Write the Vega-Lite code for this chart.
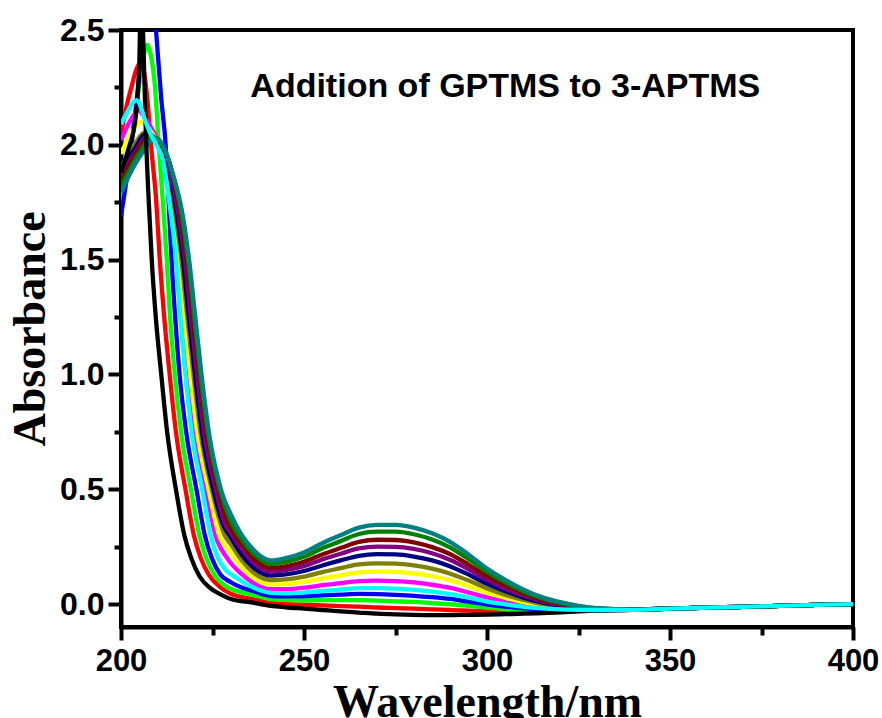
{
  "$schema": "https://vega.github.io/schema/vega-lite/v6.json",
  "width": 732,
  "height": 597,
  "autosize": {"type": "none"},
  "padding": {"left": 121, "top": 30, "right": 29, "bottom": 91},
  "background": "white",
  "config": {
    "view": {"stroke": "black", "strokeWidth": 4},
    "axis": {"grid": false}
  },
  "datasets": {
    "spectra": [
{"s":"red","w":200,"a":2.05},{"s":"red","w":202,"a":2.2},{"s":"red","w":203,"a":2.26},{"s":"red","w":204,"a":2.32},{"s":"red","w":205.2,"a":2.355},{"s":"red","w":206.1,"a":2.33},{"s":"red","w":207.2,"a":2.2},{"s":"red","w":208.3,"a":1.98},{"s":"red","w":209.6,"a":1.76},{"s":"red","w":210.6,"a":1.5},{"s":"red","w":211.8,"a":1.25},{"s":"red","w":213.3,"a":1.0},{"s":"red","w":215,"a":0.75},{"s":"red","w":217.6,"a":0.5},{"s":"red","w":219.9,"a":0.3},{"s":"red","w":221.8,"a":0.2},{"s":"red","w":224.1,"a":0.125},{"s":"red","w":227,"a":0.075},{"s":"red","w":230,"a":0.045},{"s":"red","w":236,"a":0.022},
{"s":"red","w":241,"a":0.006},{"s":"red","w":245,"a":0.001},{"s":"red","w":250,"a":-0.003},{"s":"red","w":255,"a":-0.006},{"s":"red","w":260,"a":-0.009},{"s":"red","w":265,"a":-0.011},{"s":"red","w":270,"a":-0.015},{"s":"red","w":275,"a":-0.018},{"s":"red","w":280,"a":-0.02},{"s":"red","w":285,"a":-0.023},{"s":"red","w":290,"a":-0.026},{"s":"red","w":295,"a":-0.029},{"s":"red","w":300,"a":-0.032},{"s":"red","w":305,"a":-0.034},{"s":"red","w":310,"a":-0.035},{"s":"red","w":315,"a":-0.034},{"s":"red","w":320,"a":-0.033},{"s":"red","w":325,"a":-0.03},{"s":"red","w":330,"a":-0.028},{"s":"red","w":340,"a":-0.025},{"s":"red","w":350,"a":-0.02},{"s":"red","w":360,"a":-0.016},{"s":"red","w":370,"a":-0.012},{"s":"red","w":380,"a":-0.008},{"s":"red","w":390,"a":-0.004},{"s":"red","w":400,"a":0},

{"s":"green","w":200,"a":1.75},{"s":"green","w":202,"a":1.95},{"s":"green","w":204,"a":2.15},{"s":"green","w":205.5,"a":2.32},{"s":"green","w":206.5,"a":2.41},{"s":"green","w":207.2,"a":2.435},{"s":"green","w":208,"a":2.4},{"s":"green","w":209.3,"a":2.25},{"s":"green","w":210.3,"a":2.0},{"s":"green","w":211.4,"a":1.76},{"s":"green","w":212.5,"a":1.5},{"s":"green","w":213.4,"a":1.25},{"s":"green","w":214.7,"a":1.0},{"s":"green","w":216.4,"a":0.75},{"s":"green","w":219.1,"a":0.5},{"s":"green","w":221.4,"a":0.3},{"s":"green","w":223.3,"a":0.2},{"s":"green","w":225.6,"a":0.125},{"s":"green","w":228.4,"a":0.08},{"s":"green","w":232,"a":0.055},{"s":"green","w":236,"a":0.04},
{"s":"green","w":241,"a":0.021},{"s":"green","w":245,"a":0.017},{"s":"green","w":250,"a":0.016},{"s":"green","w":255,"a":0.017},{"s":"green","w":260,"a":0.017},{"s":"green","w":265,"a":0.017},{"s":"green","w":270,"a":0.015},{"s":"green","w":275,"a":0.012},{"s":"green","w":280,"a":0.009},{"s":"green","w":285,"a":0.004},{"s":"green","w":290,"a":-0.001},{"s":"green","w":295,"a":-0.008},{"s":"green","w":300,"a":-0.016},{"s":"green","w":305,"a":-0.022},{"s":"green","w":310,"a":-0.027},{"s":"green","w":315,"a":-0.029},{"s":"green","w":320,"a":-0.03},{"s":"green","w":325,"a":-0.028},{"s":"green","w":330,"a":-0.027},{"s":"green","w":340,"a":-0.025},{"s":"green","w":350,"a":-0.02},{"s":"green","w":360,"a":-0.016},{"s":"green","w":370,"a":-0.012},{"s":"green","w":380,"a":-0.008},{"s":"green","w":390,"a":-0.004},{"s":"green","w":400,"a":0},

{"s":"blue","w":200,"a":1.69},{"s":"blue","w":202,"a":1.9},{"s":"blue","w":204,"a":2.15},{"s":"blue","w":205.5,"a":2.4},{"s":"blue","w":206.5,"a":2.6},{"s":"blue","w":207.8,"a":2.72},{"s":"blue","w":209,"a":2.62},{"s":"blue","w":209.8,"a":2.45},{"s":"blue","w":211,"a":2.2},{"s":"blue","w":212.2,"a":2.0},{"s":"blue","w":213,"a":1.76},{"s":"blue","w":213.8,"a":1.5},{"s":"blue","w":214.8,"a":1.25},{"s":"blue","w":216,"a":1.0},{"s":"blue","w":217.8,"a":0.75},{"s":"blue","w":220.6,"a":0.5},{"s":"blue","w":222.9,"a":0.3},{"s":"blue","w":224.8,"a":0.2},{"s":"blue","w":227.1,"a":0.13},{"s":"blue","w":230,"a":0.095},{"s":"blue","w":233,"a":0.072},{"s":"blue","w":236,"a":0.057},
{"s":"blue","w":241,"a":0.035},{"s":"blue","w":245,"a":0.033},{"s":"blue","w":250,"a":0.034},{"s":"blue","w":255,"a":0.038},{"s":"blue","w":260,"a":0.041},{"s":"blue","w":265,"a":0.044},{"s":"blue","w":270,"a":0.043},{"s":"blue","w":275,"a":0.04},{"s":"blue","w":280,"a":0.036},{"s":"blue","w":285,"a":0.03},{"s":"blue","w":290,"a":0.022},{"s":"blue","w":295,"a":0.01},{"s":"blue","w":300,"a":-0.002},{"s":"blue","w":305,"a":-0.011},{"s":"blue","w":310,"a":-0.019},{"s":"blue","w":315,"a":-0.024},{"s":"blue","w":320,"a":-0.026},{"s":"blue","w":325,"a":-0.027},{"s":"blue","w":330,"a":-0.027},{"s":"blue","w":340,"a":-0.025},{"s":"blue","w":350,"a":-0.02},{"s":"blue","w":360,"a":-0.016},{"s":"blue","w":370,"a":-0.012},{"s":"blue","w":380,"a":-0.008},{"s":"blue","w":390,"a":-0.004},{"s":"blue","w":400,"a":0},

{"s":"magenta","w":200,"a":2.02},{"s":"magenta","w":202,"a":2.09},{"s":"magenta","w":203.5,"a":2.13},{"s":"magenta","w":204.7,"a":2.15},{"s":"magenta","w":206,"a":2.13},{"s":"magenta","w":208,"a":2.08},{"s":"magenta","w":210,"a":2.02},{"s":"magenta","w":212,"a":1.9},{"s":"magenta","w":213.8,"a":1.7},{"s":"magenta","w":215.4,"a":1.5},{"s":"magenta","w":216.8,"a":1.25},{"s":"magenta","w":218.3,"a":1.0},{"s":"magenta","w":220.2,"a":0.75},{"s":"magenta","w":223.2,"a":0.5},{"s":"magenta","w":225.8,"a":0.3},{"s":"magenta","w":229,"a":0.2},{"s":"magenta","w":233,"a":0.13},{"s":"magenta","w":236,"a":0.093},
{"s":"magenta","w":241,"a":0.065},{"s":"magenta","w":245,"a":0.065},{"s":"magenta","w":250,"a":0.071},{"s":"magenta","w":255,"a":0.082},{"s":"magenta","w":260,"a":0.091},{"s":"magenta","w":265,"a":0.1},{"s":"magenta","w":270,"a":0.102},{"s":"magenta","w":275,"a":0.1},{"s":"magenta","w":280,"a":0.094},{"s":"magenta","w":285,"a":0.084},{"s":"magenta","w":290,"a":0.07},{"s":"magenta","w":295,"a":0.05},{"s":"magenta","w":300,"a":0.029},{"s":"magenta","w":305,"a":0.011},{"s":"magenta","w":310,"a":-0.003},{"s":"magenta","w":315,"a":-0.013},{"s":"magenta","w":320,"a":-0.02},{"s":"magenta","w":325,"a":-0.023},{"s":"magenta","w":330,"a":-0.025},{"s":"magenta","w":340,"a":-0.025},{"s":"magenta","w":350,"a":-0.02},{"s":"magenta","w":360,"a":-0.016},{"s":"magenta","w":370,"a":-0.012},{"s":"magenta","w":380,"a":-0.008},{"s":"magenta","w":390,"a":-0.004},{"s":"magenta","w":400,"a":0},

{"s":"yellow","w":200,"a":1.96},{"s":"yellow","w":202,"a":2.03},{"s":"yellow","w":204,"a":2.08},{"s":"yellow","w":205.2,"a":2.1},{"s":"yellow","w":206.5,"a":2.09},{"s":"yellow","w":208.5,"a":2.05},{"s":"yellow","w":210.5,"a":1.99},{"s":"yellow","w":212.5,"a":1.87},{"s":"yellow","w":214.2,"a":1.7},{"s":"yellow","w":215.8,"a":1.5},{"s":"yellow","w":217.3,"a":1.25},{"s":"yellow","w":218.9,"a":1.0},{"s":"yellow","w":220.8,"a":0.75},{"s":"yellow","w":223.9,"a":0.5},{"s":"yellow","w":226.8,"a":0.3},{"s":"yellow","w":230,"a":0.225},{"s":"yellow","w":233,"a":0.16},{"s":"yellow","w":236,"a":0.117},
{"s":"yellow","w":241,"a":0.086},{"s":"yellow","w":245,"a":0.087},{"s":"yellow","w":250,"a":0.096},{"s":"yellow","w":255,"a":0.112},{"s":"yellow","w":260,"a":0.125},{"s":"yellow","w":265,"a":0.138},{"s":"yellow","w":270,"a":0.141},{"s":"yellow","w":275,"a":0.14},{"s":"yellow","w":280,"a":0.133},{"s":"yellow","w":285,"a":0.121},{"s":"yellow","w":290,"a":0.103},{"s":"yellow","w":295,"a":0.077},{"s":"yellow","w":300,"a":0.049},{"s":"yellow","w":305,"a":0.027},{"s":"yellow","w":310,"a":0.008},{"s":"yellow","w":315,"a":-0.006},{"s":"yellow","w":320,"a":-0.015},{"s":"yellow","w":325,"a":-0.021},{"s":"yellow","w":330,"a":-0.024},{"s":"yellow","w":340,"a":-0.025},{"s":"yellow","w":350,"a":-0.02},{"s":"yellow","w":360,"a":-0.016},{"s":"yellow","w":370,"a":-0.012},{"s":"yellow","w":380,"a":-0.008},{"s":"yellow","w":390,"a":-0.004},{"s":"yellow","w":400,"a":0},

{"s":"olive","w":200,"a":1.9},{"s":"olive","w":202,"a":1.96},{"s":"olive","w":204,"a":2.01},{"s":"olive","w":206,"a":2.05},{"s":"olive","w":207,"a":2.055},{"s":"olive","w":208.5,"a":2.04},{"s":"olive","w":210.5,"a":2.0},{"s":"olive","w":212.5,"a":1.91},{"s":"olive","w":214.8,"a":1.7},{"s":"olive","w":216.5,"a":1.5},{"s":"olive","w":218.1,"a":1.25},{"s":"olive","w":219.8,"a":1.0},{"s":"olive","w":221.7,"a":0.75},{"s":"olive","w":224.8,"a":0.5},{"s":"olive","w":228.3,"a":0.3},{"s":"olive","w":230,"a":0.26},{"s":"olive","w":233,"a":0.19},{"s":"olive","w":236,"a":0.139},
{"s":"olive","w":241,"a":0.104},{"s":"olive","w":245,"a":0.107},{"s":"olive","w":250,"a":0.119},{"s":"olive","w":255,"a":0.139},{"s":"olive","w":260,"a":0.156},{"s":"olive","w":265,"a":0.173},{"s":"olive","w":270,"a":0.177},{"s":"olive","w":275,"a":0.176},{"s":"olive","w":280,"a":0.168},{"s":"olive","w":285,"a":0.154},{"s":"olive","w":290,"a":0.132},{"s":"olive","w":295,"a":0.102},{"s":"olive","w":300,"a":0.068},{"s":"olive","w":305,"a":0.04},{"s":"olive","w":310,"a":0.018},{"s":"olive","w":315,"a":0.0},{"s":"olive","w":320,"a":-0.011},{"s":"olive","w":325,"a":-0.018},{"s":"olive","w":330,"a":-0.023},{"s":"olive","w":340,"a":-0.024},{"s":"olive","w":350,"a":-0.02},{"s":"olive","w":360,"a":-0.016},{"s":"olive","w":370,"a":-0.012},{"s":"olive","w":380,"a":-0.008},{"s":"olive","w":390,"a":-0.004},{"s":"olive","w":400,"a":0},

{"s":"navy","w":200,"a":1.88},{"s":"navy","w":202,"a":1.94},{"s":"navy","w":204,"a":1.99},{"s":"navy","w":206,"a":2.04},{"s":"navy","w":207,"a":2.05},{"s":"navy","w":208.5,"a":2.04},{"s":"navy","w":210.5,"a":2.0},{"s":"navy","w":212.5,"a":1.92},{"s":"navy","w":215,"a":1.72},{"s":"navy","w":216.9,"a":1.5},{"s":"navy","w":218.5,"a":1.25},{"s":"navy","w":220.2,"a":1.0},{"s":"navy","w":222.1,"a":0.75},{"s":"navy","w":225.2,"a":0.5},{"s":"navy","w":227.8,"a":0.35},{"s":"navy","w":230,"a":0.29},{"s":"navy","w":233,"a":0.215},{"s":"navy","w":236,"a":0.162},
{"s":"navy","w":241,"a":0.124},{"s":"navy","w":245,"a":0.129},{"s":"navy","w":250,"a":0.144},{"s":"navy","w":255,"a":0.168},{"s":"navy","w":260,"a":0.19},{"s":"navy","w":265,"a":0.21},{"s":"navy","w":270,"a":0.217},{"s":"navy","w":275,"a":0.216},{"s":"navy","w":280,"a":0.207},{"s":"navy","w":285,"a":0.19},{"s":"navy","w":290,"a":0.164},{"s":"navy","w":295,"a":0.128},{"s":"navy","w":300,"a":0.088},{"s":"navy","w":305,"a":0.056},{"s":"navy","w":310,"a":0.028},{"s":"navy","w":315,"a":0.007},{"s":"navy","w":320,"a":-0.007},{"s":"navy","w":325,"a":-0.016},{"s":"navy","w":330,"a":-0.022},{"s":"navy","w":340,"a":-0.024},{"s":"navy","w":350,"a":-0.02},{"s":"navy","w":360,"a":-0.016},{"s":"navy","w":370,"a":-0.012},{"s":"navy","w":380,"a":-0.008},{"s":"navy","w":390,"a":-0.004},{"s":"navy","w":400,"a":0},

{"s":"purple","w":200,"a":1.86},{"s":"purple","w":202,"a":1.92},{"s":"purple","w":204,"a":1.97},{"s":"purple","w":206,"a":2.02},{"s":"purple","w":207.3,"a":2.04},{"s":"purple","w":209,"a":2.03},{"s":"purple","w":211,"a":1.99},{"s":"purple","w":213,"a":1.91},{"s":"purple","w":215.5,"a":1.72},{"s":"purple","w":217.5,"a":1.5},{"s":"purple","w":219.1,"a":1.25},{"s":"purple","w":220.8,"a":1.0},{"s":"purple","w":222.7,"a":0.75},{"s":"purple","w":225.9,"a":0.5},{"s":"purple","w":228.4,"a":0.35},{"s":"purple","w":230,"a":0.31},{"s":"purple","w":233,"a":0.24},{"s":"purple","w":236,"a":0.183},
{"s":"purple","w":241,"a":0.141},{"s":"purple","w":245,"a":0.148},{"s":"purple","w":250,"a":0.165},{"s":"purple","w":255,"a":0.194},{"s":"purple","w":260,"a":0.219},{"s":"purple","w":265,"a":0.242},{"s":"purple","w":270,"a":0.25},{"s":"purple","w":275,"a":0.249},{"s":"purple","w":280,"a":0.24},{"s":"purple","w":285,"a":0.221},{"s":"purple","w":290,"a":0.192},{"s":"purple","w":295,"a":0.151},{"s":"purple","w":300,"a":0.106},{"s":"purple","w":305,"a":0.068},{"s":"purple","w":310,"a":0.037},{"s":"purple","w":315,"a":0.013},{"s":"purple","w":320,"a":-0.003},{"s":"purple","w":325,"a":-0.014},{"s":"purple","w":330,"a":-0.021},{"s":"purple","w":340,"a":-0.024},{"s":"purple","w":350,"a":-0.02},{"s":"purple","w":360,"a":-0.016},{"s":"purple","w":370,"a":-0.012},{"s":"purple","w":380,"a":-0.008},{"s":"purple","w":390,"a":-0.004},{"s":"purple","w":400,"a":0},

{"s":"maroon","w":200,"a":1.84},{"s":"maroon","w":202,"a":1.9},{"s":"maroon","w":204,"a":1.96},{"s":"maroon","w":206,"a":2.01},{"s":"maroon","w":207.5,"a":2.035},{"s":"maroon","w":209,"a":2.03},{"s":"maroon","w":211,"a":2.0},{"s":"maroon","w":213,"a":1.93},{"s":"maroon","w":215.8,"a":1.73},{"s":"maroon","w":217.9,"a":1.5},{"s":"maroon","w":219.6,"a":1.25},{"s":"maroon","w":221.3,"a":1.0},{"s":"maroon","w":223.3,"a":0.75},{"s":"maroon","w":226.5,"a":0.5},{"s":"maroon","w":229,"a":0.36},{"s":"maroon","w":233,"a":0.26},{"s":"maroon","w":236,"a":0.201},
{"s":"maroon","w":241,"a":0.157},{"s":"maroon","w":245,"a":0.164},{"s":"maroon","w":250,"a":0.184},{"s":"maroon","w":255,"a":0.216},{"s":"maroon","w":260,"a":0.244},{"s":"maroon","w":265,"a":0.271},{"s":"maroon","w":270,"a":0.28},{"s":"maroon","w":275,"a":0.279},{"s":"maroon","w":280,"a":0.269},{"s":"maroon","w":285,"a":0.248},{"s":"maroon","w":290,"a":0.217},{"s":"maroon","w":295,"a":0.171},{"s":"maroon","w":300,"a":0.121},{"s":"maroon","w":305,"a":0.08},{"s":"maroon","w":310,"a":0.045},{"s":"maroon","w":315,"a":0.018},{"s":"maroon","w":320,"a":0.001},{"s":"maroon","w":325,"a":-0.012},{"s":"maroon","w":330,"a":-0.02},{"s":"maroon","w":340,"a":-0.024},{"s":"maroon","w":350,"a":-0.02},{"s":"maroon","w":360,"a":-0.016},{"s":"maroon","w":370,"a":-0.012},{"s":"maroon","w":380,"a":-0.008},{"s":"maroon","w":390,"a":-0.004},{"s":"maroon","w":400,"a":0},

{"s":"dkgreen","w":200,"a":1.82},{"s":"dkgreen","w":202,"a":1.88},{"s":"dkgreen","w":204,"a":1.94},{"s":"dkgreen","w":206,"a":1.99},{"s":"dkgreen","w":207.8,"a":2.03},{"s":"dkgreen","w":209.5,"a":2.03},{"s":"dkgreen","w":211.5,"a":1.99},{"s":"dkgreen","w":213.5,"a":1.91},{"s":"dkgreen","w":216.2,"a":1.73},{"s":"dkgreen","w":218.3,"a":1.5},{"s":"dkgreen","w":220,"a":1.25},{"s":"dkgreen","w":221.7,"a":1.0},{"s":"dkgreen","w":223.7,"a":0.75},{"s":"dkgreen","w":227,"a":0.5},{"s":"dkgreen","w":230,"a":0.36},{"s":"dkgreen","w":233,"a":0.28},{"s":"dkgreen","w":236,"a":0.222},
{"s":"dkgreen","w":241,"a":0.175},{"s":"dkgreen","w":245,"a":0.184},{"s":"dkgreen","w":250,"a":0.206},{"s":"dkgreen","w":255,"a":0.243},{"s":"dkgreen","w":260,"a":0.274},{"s":"dkgreen","w":265,"a":0.305},{"s":"dkgreen","w":270,"a":0.315},{"s":"dkgreen","w":275,"a":0.315},{"s":"dkgreen","w":280,"a":0.304},{"s":"dkgreen","w":285,"a":0.281},{"s":"dkgreen","w":290,"a":0.246},{"s":"dkgreen","w":295,"a":0.195},{"s":"dkgreen","w":300,"a":0.14},{"s":"dkgreen","w":305,"a":0.094},{"s":"dkgreen","w":310,"a":0.055},{"s":"dkgreen","w":315,"a":0.025},{"s":"dkgreen","w":320,"a":0.005},{"s":"dkgreen","w":325,"a":-0.01},{"s":"dkgreen","w":330,"a":-0.019},{"s":"dkgreen","w":340,"a":-0.024},{"s":"dkgreen","w":350,"a":-0.02},{"s":"dkgreen","w":360,"a":-0.016},{"s":"dkgreen","w":370,"a":-0.012},{"s":"dkgreen","w":380,"a":-0.008},{"s":"dkgreen","w":390,"a":-0.004},{"s":"dkgreen","w":400,"a":0},

{"s":"teal","w":200,"a":1.79},{"s":"teal","w":202,"a":1.86},{"s":"teal","w":204,"a":1.92},{"s":"teal","w":206,"a":1.97},{"s":"teal","w":208.4,"a":2.02},{"s":"teal","w":210,"a":2.025},{"s":"teal","w":212,"a":1.98},{"s":"teal","w":214,"a":1.88},{"s":"teal","w":216.9,"a":1.69},{"s":"teal","w":218.6,"a":1.5},{"s":"teal","w":220.3,"a":1.25},{"s":"teal","w":222,"a":1.0},{"s":"teal","w":224,"a":0.75},{"s":"teal","w":227.3,"a":0.5},{"s":"teal","w":230,"a":0.39},{"s":"teal","w":233,"a":0.3},{"s":"teal","w":236,"a":0.24},{"s":"teal","w":238,"a":0.21},
{"s":"teal","w":241,"a":0.19},{"s":"teal","w":245,"a":0.2},{"s":"teal","w":250,"a":0.225},{"s":"teal","w":255,"a":0.265},{"s":"teal","w":260,"a":0.3},{"s":"teal","w":265,"a":0.333},{"s":"teal","w":270,"a":0.345},{"s":"teal","w":275,"a":0.345},{"s":"teal","w":280,"a":0.333},{"s":"teal","w":285,"a":0.308},{"s":"teal","w":290,"a":0.27},{"s":"teal","w":295,"a":0.215},{"s":"teal","w":300,"a":0.155},{"s":"teal","w":305,"a":0.105},{"s":"teal","w":310,"a":0.063},{"s":"teal","w":315,"a":0.03},{"s":"teal","w":320,"a":0.008},{"s":"teal","w":325,"a":-0.008},{"s":"teal","w":330,"a":-0.018},{"s":"teal","w":340,"a":-0.024},{"s":"teal","w":350,"a":-0.02},{"s":"teal","w":360,"a":-0.016},{"s":"teal","w":370,"a":-0.012},{"s":"teal","w":380,"a":-0.008},{"s":"teal","w":390,"a":-0.004},{"s":"teal","w":400,"a":0},

{"s":"black","w":200,"a":1.88},{"s":"black","w":202,"a":1.98},{"s":"black","w":204,"a":2.12},{"s":"black","w":205,"a":2.35},{"s":"black","w":205.5,"a":2.75},{"s":"black","w":206.1,"a":2.45},{"s":"black","w":206.8,"a":2.05},{"s":"black","w":207.5,"a":1.78},{"s":"black","w":208.4,"a":1.5},{"s":"black","w":209.5,"a":1.25},{"s":"black","w":211,"a":1.0},{"s":"black","w":212.6,"a":0.75},{"s":"black","w":215,"a":0.5},{"s":"black","w":217.3,"a":0.3},{"s":"black","w":219.2,"a":0.2},{"s":"black","w":221.5,"a":0.12},{"s":"black","w":224.3,"a":0.07},{"s":"black","w":227.5,"a":0.04},{"s":"black","w":230,"a":0.022},{"s":"black","w":236,"a":0.006},
{"s":"black","w":241,"a":-0.008},{"s":"black","w":245,"a":-0.014},{"s":"black","w":250,"a":-0.02},{"s":"black","w":255,"a":-0.026},{"s":"black","w":260,"a":-0.032},{"s":"black","w":265,"a":-0.037},{"s":"black","w":270,"a":-0.042},{"s":"black","w":275,"a":-0.045},{"s":"black","w":280,"a":-0.047},{"s":"black","w":285,"a":-0.048},{"s":"black","w":290,"a":-0.048},{"s":"black","w":295,"a":-0.047},{"s":"black","w":300,"a":-0.046},{"s":"black","w":305,"a":-0.044},{"s":"black","w":310,"a":-0.042},{"s":"black","w":315,"a":-0.039},{"s":"black","w":320,"a":-0.036},{"s":"black","w":325,"a":-0.032},{"s":"black","w":330,"a":-0.029},{"s":"black","w":340,"a":-0.025},{"s":"black","w":350,"a":-0.02},{"s":"black","w":360,"a":-0.016},{"s":"black","w":370,"a":-0.012},{"s":"black","w":380,"a":-0.008},{"s":"black","w":390,"a":-0.004},{"s":"black","w":400,"a":0},

{"s":"cyan","w":200,"a":2.09},{"s":"cyan","w":202,"a":2.15},{"s":"cyan","w":203.3,"a":2.185},{"s":"cyan","w":204.3,"a":2.195},{"s":"cyan","w":205.3,"a":2.17},{"s":"cyan","w":206.5,"a":2.11},{"s":"cyan","w":208,"a":2.05},{"s":"cyan","w":210,"a":1.99},{"s":"cyan","w":211.5,"a":1.93},{"s":"cyan","w":213.2,"a":1.75},{"s":"cyan","w":215,"a":1.5},{"s":"cyan","w":216.2,"a":1.25},{"s":"cyan","w":217.6,"a":1.0},{"s":"cyan","w":219.3,"a":0.75},{"s":"cyan","w":222.2,"a":0.5},{"s":"cyan","w":224.5,"a":0.3},{"s":"cyan","w":226.5,"a":0.2},{"s":"cyan","w":228.5,"a":0.15},{"s":"cyan","w":231,"a":0.12},{"s":"cyan","w":236,"a":0.073},
{"s":"cyan","w":241,"a":0.049},{"s":"cyan","w":245,"a":0.047},{"s":"cyan","w":250,"a":0.05},{"s":"cyan","w":255,"a":0.057},{"s":"cyan","w":260,"a":0.063},{"s":"cyan","w":265,"a":0.069},{"s":"cyan","w":270,"a":0.069},{"s":"cyan","w":275,"a":0.067},{"s":"cyan","w":280,"a":0.062},{"s":"cyan","w":285,"a":0.054},{"s":"cyan","w":290,"a":0.043},{"s":"cyan","w":295,"a":0.028},{"s":"cyan","w":300,"a":0.011},{"s":"cyan","w":305,"a":-0.001},{"s":"cyan","w":310,"a":-0.012},{"s":"cyan","w":315,"a":-0.019},{"s":"cyan","w":320,"a":-0.023},{"s":"cyan","w":325,"a":-0.025},{"s":"cyan","w":330,"a":-0.026},{"s":"cyan","w":340,"a":-0.025},{"s":"cyan","w":350,"a":-0.02},{"s":"cyan","w":360,"a":-0.016},{"s":"cyan","w":370,"a":-0.012},{"s":"cyan","w":380,"a":-0.008},{"s":"cyan","w":390,"a":-0.004},{"s":"cyan","w":400,"a":0}
    ],
    "note": [{"label": "Addition of GPTMS to 3-APTMS", "w": 305, "a": 2.21}]
  },
  "layer": [
    {
      "data": {"name": "spectra"},
      "mark": {"type": "line", "interpolate": "monotone", "strokeWidth": 4.3, "clip": true},
      "encoding": {
        "x": {
          "field": "w", "type": "quantitative",
          "scale": {"domain": [200, 400], "nice": false, "zero": false},
          "axis": {
            "title": "Wavelength/nm",
            "values": [200, 225, 250, 275, 300, 325, 350, 375, 400],
            "labelExpr": "datum.value % 50 === 0 ? datum.label : ''",
            "format": "d",
            "domainColor": "black", "domainWidth": 4,
            "tickColor": "black", "tickWidth": 4,
            "tickSize": {"condition": {"test": "datum.value % 50 === 0", "value": 13}, "value": 8},
            "labelFont": "Liberation Sans", "labelFontWeight": "bold", "labelFontSize": 31, "labelColor": "black",
            "labelPadding": 6, "labelFlush": false, "labelOverlap": false,
            "titleFont": "Liberation Serif", "titleFontWeight": "bold", "titleFontSize": 46, "titleColor": "black",
            "titlePadding": 4
          }
        },
        "y": {
          "field": "a", "type": "quantitative",
          "scale": {"domain": [-0.1, 2.5], "nice": false, "zero": false},
          "axis": {
            "title": "Absorbance",
            "values": [0, 0.25, 0.5, 0.75, 1, 1.25, 1.5, 1.75, 2, 2.25, 2.5],
            "labelExpr": "round(datum.value * 100) % 50 === 0 ? format(datum.value, '.1f') : ''",
            "domainColor": "black", "domainWidth": 4,
            "tickColor": "black", "tickWidth": 4,
            "tickSize": {"condition": {"test": "round(datum.value * 100) % 50 === 0", "value": 13}, "value": 7},
            "labelFont": "Liberation Sans", "labelFontWeight": "bold", "labelFontSize": 32, "labelColor": "black",
            "labelPadding": 4, "labelFlush": false, "labelOverlap": false,
            "titleFont": "Liberation Serif", "titleFontWeight": "bold", "titleFontSize": 46, "titleColor": "black",
            "titlePadding": 5
          }
        },
        "color": {
          "field": "s", "type": "nominal",
          "scale": {
            "domain": ["red", "green", "blue", "magenta", "yellow", "olive", "navy", "purple", "maroon", "dkgreen", "teal", "black", "cyan"],
            "range": ["#FF0000", "#00FF00", "#0000FF", "#FF00FF", "#FFFF00", "#808000", "#000080", "#800080", "#800000", "#008000", "#008080", "#000000", "#00FFFF"]
          },
          "legend": null
        }
      }
    },
    {
      "data": {"name": "note"},
      "mark": {"type": "text", "font": "Liberation Sans", "fontWeight": "bold", "fontSize": 34, "align": "center", "baseline": "alphabetic", "color": "black"},
      "encoding": {
        "x": {"field": "w", "type": "quantitative"},
        "y": {"field": "a", "type": "quantitative"},
        "text": {"field": "label"}
      }
    }
  ]
}
